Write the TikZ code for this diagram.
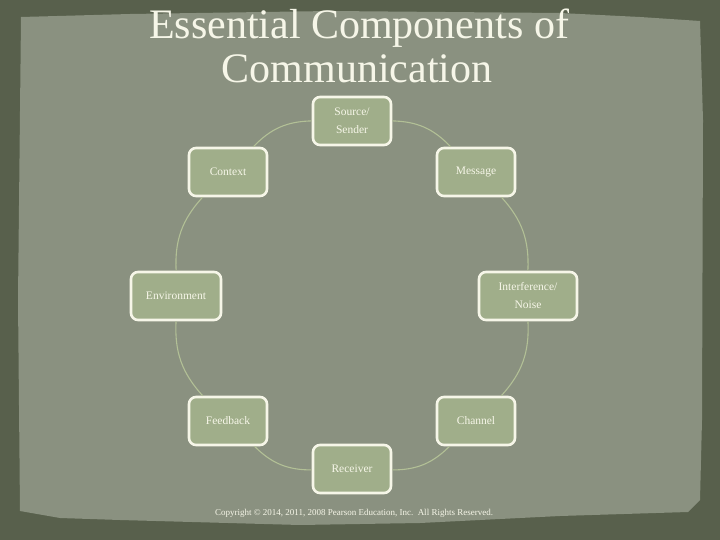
\documentclass[tikz,border=0pt]{standalone}
\usepackage{fontspec}
\setmainfont{Liberation Serif}
\usepackage{tikz}
\definecolor{frame}{RGB}{88,96,76}
\definecolor{paper}{RGB}{138,145,128}
\definecolor{boxfill}{RGB}{160,174,138}
\definecolor{link}{RGB}{178,192,150}
\definecolor{ink}{RGB}{246,246,232}
\tikzset{
  part/.style={draw=ink, line width=2.6pt, fill=boxfill, rounded corners=7pt,
    minimum width=78pt, minimum height=48pt, align=center, text=ink,
    font=\fontsize{11.5}{18}\selectfont, inner sep=4pt},
  cycle link/.style={draw=link, line width=1.1pt}
}
\begin{document}
\begin{tikzpicture}[x=1pt,y=-1pt]
\useasboundingbox (0,0) rectangle (720,540);
\fill[frame] (0,0) rectangle (720,540);
\fill[paper] (21,17) -- (130,14) -- (330,11) -- (560,13) -- (640,17) -- (700,21)
  -- (703,120) -- (702,420) -- (700,500) -- (688,512) -- (560,516) -- (420,523)
  -- (300,525) -- (120,520) -- (60,518) -- (20,511) -- (18,300) -- cycle;
% title
\node[text=ink, font=\fontsize{42}{45}\selectfont, anchor=base] (title1) at (359,39) {Essential Components of};
\node[text=ink, font=\fontsize{42}{45}\selectfont, anchor=base] (title2) at (357,83) {Communication};
% the eight parts round the cycle
\node[part] (sender) at (352,121) {Source/\\Sender};
\node[part] (message) at (476,172) {Message};
\node[part, minimum width=98pt] (noise) at (528,296) {Interference/\\Noise};
\node[part] (channel) at (476,421) {Channel};
\node[part] (receiver) at (352,469) {Receiver};
\node[part] (feedback) at (228,421) {Feedback};
\node[part, minimum width=90pt] (environment) at (176,296) {Environment};
\node[part] (context) at (228,172) {Context};
% connectors
\draw[cycle link] (sender) to[bend left=22.5] (message);
\draw[cycle link] (message) to[bend left=22.5] (noise);
\draw[cycle link] (noise) to[bend left=22.5] (channel);
\draw[cycle link] (channel) to[bend left=22.5] (receiver);
\draw[cycle link] (receiver) to[bend left=22.5] (feedback);
\draw[cycle link] (feedback) to[bend left=22.5] (environment);
\draw[cycle link] (environment) to[bend left=22.5] (context);
\draw[cycle link] (context) to[bend left=22.5] (sender);
\node[text=ink, font=\fontsize{9}{10}\selectfont] (copyright) at (354,513)
  {Copyright © 2014, 2011, 2008 Pearson Education, Inc.\ \ All Rights Reserved.};
\end{tikzpicture}
\end{document}
